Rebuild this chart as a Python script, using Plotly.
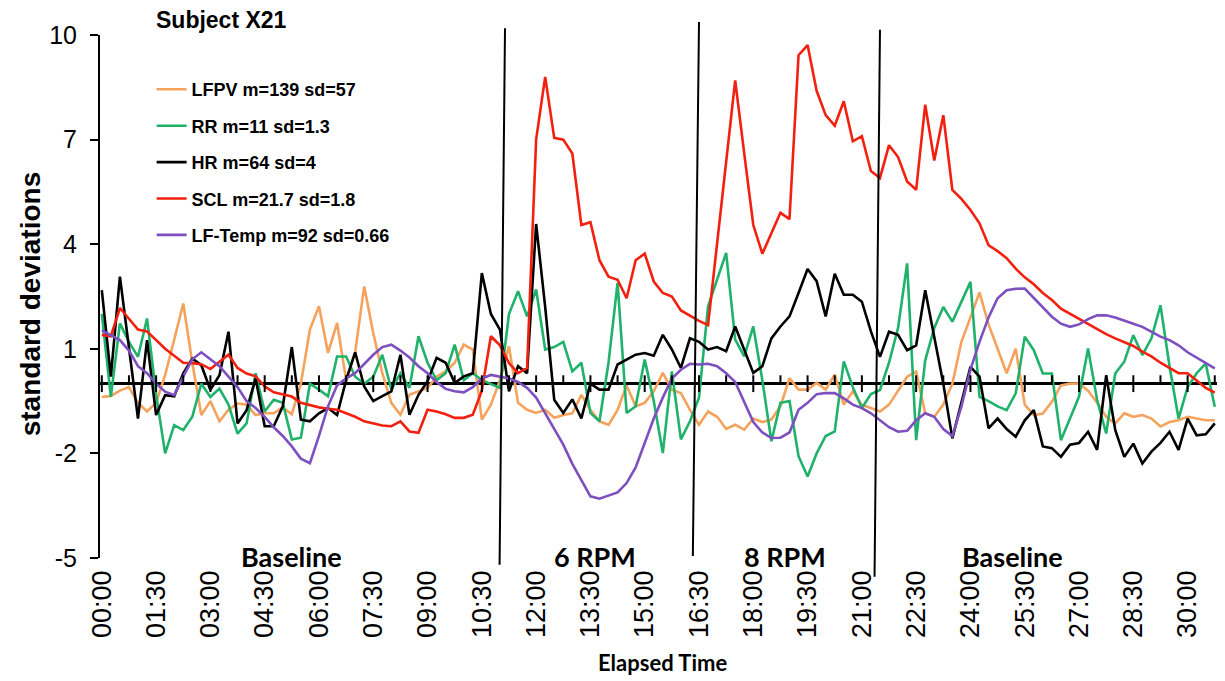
import plotly.graph_objects as go

# elapsed time in minutes, one sample every 15 s
minutes = [i * 0.25 for i in range(124)]

tick_minutes = [0, 1.5, 3, 4.5, 6, 7.5, 9, 10.5, 12, 13.5, 15, 16.5, 18, 19.5, 21,
                22.5, 24, 25.5, 27, 28.5, 30]
tick_labels = ["00:00", "01:30", "03:00", "04:30", "06:00", "07:30", "09:00", "10:30",
               "12:00", "13:30", "15:00", "16:30", "18:00", "19:30", "21:00", "22:30",
               "24:00", "25:30", "27:00", "28:30", "30:00"]
minor_minutes = [0.75, 2.25, 3.75, 5.25, 6.75, 8.25, 9.75, 11.25, 12.75, 14.25, 15.75,
                 17.25, 18.75, 20.25, 21.75, 23.25, 24.75, 26.25, 27.75, 29.25, 30.75]

y_ticks = [-5, -2, 1, 4, 7, 10]

# z-scored signals (standard deviations)
lfpv = [-0.38, -0.35, -0.2, -0.1, -0.55, -0.8, -0.55, 0.25, 1.26, 2.3,
        0.6, -0.9, -0.5, -1.08, -0.75, -0.57, -0.6, -0.9, -0.85, -0.85,
        -0.68, -0.88, 0.0, 1.55, 2.22, 0.88, 1.74, 0.11, 0.9, 2.79,
        1.45, 0.3, -0.55, -0.89, -0.32, -0.22, -0.12, 0.2, 0.35, 0.6,
        1.12, 0.98, -1.03, -0.6, 0.1, 1.07, -0.55, -0.75, -0.84, -0.75,
        -0.98, -0.9, -0.85, -0.32, -0.75, -1.08, -1.18, -0.75, -0.05, -0.65,
        -0.55, -0.22, 0.31, -0.18, -0.27, -0.75, -1.18, -0.8, -0.95, -1.3,
        -1.18, -1.32, -1.0, -1.1, -1.03, -0.65, 0.16, -0.17, -0.17, 0.02,
        -0.17, 0.26, -0.6, -0.22, -0.61, -0.7, -0.8, -0.6, -0.2, 0.2,
        0.34, -0.85, -0.95, -0.6, 0.0, 1.2, 1.9, 2.62, 1.7, 1.0,
        0.3, 1.0, -0.6, -0.9, -0.86, -0.52, -0.05, 0.0, 0.0, -0.2,
        -0.55, -0.95, -1.14, -0.85, -0.95, -0.9, -1.0, -1.23, -1.1, -1.05,
        -0.95, -1.0, -1.05, -1.05]

rr = [2.0, -0.38, 1.73, 1.2, 0.77, 1.87, -0.3, -2.0, -1.19, -1.33,
      -0.95, 0.0, -0.38, -0.14, -0.6, -1.43, -1.14, 0.3, -0.8, -0.46,
      -0.55, -1.6, -1.55, 0.0, -0.17, -0.36, 0.78, 0.78, 0.2, 0.0,
      0.2, 0.83, -0.17, 0.3, -0.12, 1.36, 0.6, 0.1, 0.3, 1.12,
      0.1, 0.3, 0.1, 0.0, -0.12, 2.0, 2.65, 1.93, 2.7, 0.98,
      1.05, 1.2, 0.35, 0.6, -0.84, -1.08, 0.6, 2.89, -0.84, -0.65,
      0.69, -0.5, -1.99, 0.35, -1.6, -1.08, -0.4, 2.22, 3.0, 3.75,
      1.26, 0.78, 1.64, 0.1, -1.65, -0.55, -0.5, -2.08, -2.66, -2.0,
      -1.5, -1.37, 0.64, -0.1, -0.7, -0.3, -0.18, 0.6, 1.6, 3.45,
      -1.62, 0.67, 1.6, 2.2, 1.78, 2.35, 2.92, -0.38, -0.5, -0.65,
      -0.76, -0.28, 1.35, 0.96, 0.29, 0.29, -1.62, -1.0, -0.37, 1.01,
      -0.47, -1.43, 0.29, 0.63, 1.39, 0.82, 1.3, 2.25, 0.5, -1.0,
      -0.1, 0.3, 0.58, -0.66]

hr = [2.68, 0.2, 3.07, 1.0, -1.0, 1.25, -0.9, -0.33, -0.36, 0.3,
      0.72, 0.53, -0.18, 0.24, 1.49, -1.14, -0.76, 0.15, -1.22, -1.22,
      -0.65, 1.05, -1.03, -1.08, -0.85, -0.7, -0.9, 0.1, 0.9, -0.08,
      -0.5, -0.36, -0.22, 0.83, -0.89, -0.32, 0.07, 0.74, 0.6, 0.02,
      0.21, 0.3, 3.17, 2.0, 1.55, -0.22, 0.5, 0.3, 4.58, 2.2,
      -0.46, -0.84, -0.45, -1.0, 0.0, -0.17, -0.17, 0.55, 0.69, 0.83,
      0.88, 0.8, 1.4, 0.98, 0.45, 1.3, 1.2, 0.98, 1.05, 0.93,
      1.64, 0.98, 0.31, 0.5, 1.3, 1.64, 1.93, 2.6, 3.29, 2.94,
      1.93, 3.15, 2.55, 2.55, 2.35, 1.5, 0.77, 1.49, 1.4, 0.96,
      1.1, 2.68, 1.3, 0.0, -1.57, -0.5, 0.48, 0.2, -1.28, -1.0,
      -1.3, -1.52, -1.05, -0.76, -1.8, -1.85, -2.1, -1.75, -1.7, -1.38,
      -1.9, 0.24, -1.33, -2.1, -1.72, -2.29, -1.95, -1.7, -1.38, -1.9,
      -1.0, -1.48, -1.45, -1.14]

scl = [1.4, 1.36, 2.17, 1.85, 1.55, 1.5, 1.26, 1.0, 0.8, 0.6,
       0.59, 0.56, 0.42, 0.62, 0.83, 0.45, 0.29, 0.21, -0.08, -0.25,
       -0.3, -0.37, -0.55, -0.62, -0.68, -0.72, -0.75, -0.85, -0.95, -1.08,
       -1.15, -1.2, -1.22, -1.08, -1.37, -1.41, -0.75, -0.8, -0.88, -0.98,
       -0.98, -0.89, -0.2, 1.36, 1.1, 0.59, 0.3, 0.45, 7.0, 8.8,
       7.05, 7.0, 6.6, 4.55, 4.63, 3.54, 3.07, 2.98, 2.45, 3.54,
       3.73, 2.93, 2.6, 2.5, 2.1, 1.95, 1.8, 1.68, 4.0, 6.4,
       8.7, 6.6, 4.55, 3.73, 4.3, 4.9, 4.72, 9.42, 9.71, 8.4,
       7.7, 7.4, 8.1, 6.95, 7.1, 6.1, 5.9, 6.84, 6.5, 5.8,
       5.56, 8.0, 6.4, 7.7, 5.56, 5.3, 4.98, 4.6, 3.97, 3.8,
       3.6, 3.3, 3.05, 2.85, 2.6, 2.4, 2.15, 2.0, 1.85, 1.7,
       1.55, 1.42, 1.3, 1.2, 1.08, 0.92, 0.78, 0.6, 0.45, 0.3,
       0.3, 0.1, -0.12, -0.26]

lf_temp = [1.53, 1.4, 1.25, 0.95, 0.5, 0.3, 0.0, -0.23, -0.33, 0.2,
           0.7, 0.9, 0.7, 0.5, 0.2, -0.1, -0.5, -0.7, -0.95, -1.25,
           -1.5, -1.8, -2.15, -2.28, -1.5, -0.65, -0.05, 0.15, 0.3, 0.55,
           0.83, 1.05, 1.12, 0.95, 0.75, 0.5, 0.3, 0.05, -0.15, -0.22,
           -0.25, -0.1, 0.15, 0.25, 0.2, 0.15, 0.05, -0.12, -0.4, -0.84,
           -1.3, -1.75, -2.3, -2.75, -3.23, -3.3, -3.2, -3.12, -2.85, -2.4,
           -1.7, -1.0, -0.4, 0.15, 0.4, 0.57, 0.55, 0.57, 0.5, 0.3,
           0.05, -0.55, -1.1, -1.4, -1.56, -1.55, -1.4, -0.75, -0.55, -0.3,
           -0.27, -0.27, -0.42, -0.6, -0.7, -0.85, -1.05, -1.25, -1.38, -1.35,
           -1.05, -0.85, -0.95, -1.3, -1.5, -0.66, 0.4, 1.2, 1.9, 2.45,
           2.68, 2.72, 2.73, 2.45, 2.2, 1.92, 1.72, 1.63, 1.7, 1.85,
           1.96, 1.96, 1.9, 1.8, 1.72, 1.63, 1.5, 1.35, 1.25, 1.1,
           0.9, 0.75, 0.58, 0.44]

series = [
    ("LFPV m=139 sd=57", lfpv, "#F5A35C"),
    ("RR m=11 sd=1.3", rr, "#20B26B"),
    ("HR m=64 sd=4", hr, "#000000"),
    ("SCL m=21.7 sd=1.8", scl, "#F2200F"),
    ("LF-Temp m=92 sd=0.66", lf_temp, "#7D4FBF"),
]

# condition boundaries (hand drawn, slightly slanted): (x top, x bottom, y top, y bottom) in paper y
phase_lines = [(11.14, 10.99, 1.013, -0.013),
               (16.50, 16.33, 1.025, 0.004),
               (21.50, 21.35, 1.010, -0.036)]
phase_labels = [("Baseline", 5.25), ("6 RPM", 13.62), ("8 RPM", 18.87), ("Baseline", 25.15)]

fig = go.Figure()

for i, (name, vals, color) in enumerate(series):
    fig.add_trace(go.Scatter(x=minutes, y=vals, mode='lines', name=name,
                             legendgroup=str(i), line=dict(color=color, width=2.6)))

# tick marks along the zero line: majors cross it, minors sit on top
fig.add_trace(go.Scatter(x=tick_minutes, y=[0] * len(tick_minutes), mode='markers',
                         marker=dict(symbol='line-ns', size=12, line=dict(color='black', width=2)),
                         showlegend=False, hoverinfo='skip'))
fig.add_trace(go.Scatter(x=minor_minutes, y=[0.1] * len(minor_minutes), mode='markers',
                         marker=dict(symbol='line-ns', size=7, line=dict(color='black', width=2)),
                         showlegend=False, hoverinfo='skip'))

for x0, x1, y0, y1 in phase_lines:
    fig.add_shape(type='line', xref='x', yref='paper', x0=x0, x1=x1, y0=y0, y1=y1,
                  line=dict(color='black', width=2))

for text, xm in phase_labels:
    fig.add_annotation(x=xm, y=0.002, xref='x', yref='paper', text=text, showarrow=False,
                       xanchor='center', yanchor='middle',
                       font=dict(family='Lato', size=27, color='black', weight='bold'))

fig.add_annotation(x=0.1087, y=1.0287, xref='paper', yref='paper', text='Subject X21',
                   showarrow=False, xanchor='center', yanchor='middle',
                   font=dict(size=23, color='black', weight='bold'))
fig.add_annotation(x=-0.0624, y=0.487, xref='paper', yref='paper', text='standard deviations',
                   textangle=-90, showarrow=False, xanchor='center', yanchor='middle',
                   font=dict(size=28, color='black', weight='bold'))
fig.add_annotation(x=0.5009, y=-0.1989, xref='paper', yref='paper', text='Elapsed Time',
                   showarrow=False, xanchor='center', yanchor='middle',
                   font=dict(family='Lato', size=22, color='black', weight='bold'))

# the page body has an 8 px margin, so the figure is 8 px smaller and shifted
fig.update_layout(
    width=1217, height=673,
    margin=dict(l=92, r=3, t=27, b=123),
    plot_bgcolor='white', paper_bgcolor='white',
    font=dict(family='Liberation Sans, Arial, sans-serif', color='black'),
    legend=dict(x=0.046, y=0.931, xanchor='left', yanchor='top', bgcolor='rgba(0,0,0,0)',
                tracegroupgap=10, font=dict(size=18, weight='bold')),
)

fig.update_xaxes(range=[-0.05, 30.95], showgrid=False, showline=False, zeroline=False,
                 tickvals=tick_minutes, ticktext=tick_labels, tickangle=-90, ticks='',
                 ticklabelstandoff=6, tickfont=dict(size=27), automargin=False)
fig.update_yaxes(range=[-5, 10], showgrid=False, showline=True, linecolor='black', linewidth=2,
                 ticks='outside', ticklen=8, tickwidth=2, tickcolor='black',
                 tickvals=y_ticks, ticktext=[str(v) for v in y_ticks], tickfont=dict(size=25),
                 ticklabelstandoff=8,
                 zeroline=True, zerolinecolor='black', zerolinewidth=2.5, automargin=False)

fig.write_html("out.html")
